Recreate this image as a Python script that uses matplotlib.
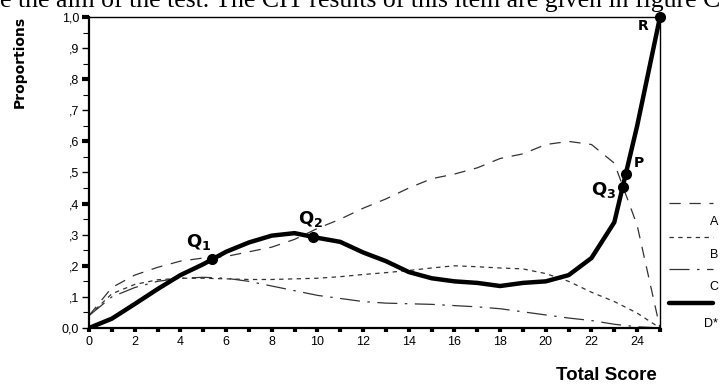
import matplotlib
matplotlib.use("Agg")
import matplotlib.pyplot as plt
from matplotlib.lines import Line2D
import numpy as np

# total score 0..25
score = list(range(26))

prop_a = [0.04, 0.13, 0.17, 0.195, 0.215, 0.225, 0.23, 0.245, 0.26, 0.285,
          0.32, 0.35, 0.385, 0.415, 0.45, 0.48, 0.495, 0.515, 0.545, 0.56,
          0.59, 0.60, 0.59, 0.53, 0.33, 0.0]
prop_b = [0.04, 0.11, 0.14, 0.155, 0.16, 0.16, 0.158, 0.156, 0.156, 0.158,
          0.16, 0.165, 0.172, 0.178, 0.185, 0.193, 0.20, 0.197, 0.193, 0.19,
          0.175, 0.15, 0.115, 0.085, 0.048, 0.0]
prop_c = [0.04, 0.10, 0.13, 0.15, 0.16, 0.163, 0.16, 0.15, 0.135, 0.12,
          0.105, 0.095, 0.085, 0.08, 0.078, 0.076, 0.072, 0.068, 0.062, 0.052,
          0.042, 0.032, 0.024, 0.012, 0.004, 0.0]
prop_d = [0.0, 0.03, 0.077, 0.125, 0.17, 0.205, 0.245, 0.275, 0.297, 0.305,
          0.29, 0.277, 0.243, 0.215, 0.18, 0.16, 0.15, 0.145, 0.135, 0.145,
          0.15, 0.17, 0.225, 0.34, 0.65, 1.0]

# marked points on the key (D*) curve
point_names = ["Q1", "Q2", "Q3", "P", "R"]
point_score = [5.4, 9.8, 23.37, 23.5, 25.0]

option_labels = ["A", "B", "C", "D*"]

fig = plt.figure(figsize=(7.25, 3.85), dpi=100)
W, H = 725.0, 385.0
ax = fig.add_axes([89 / W, 1 - 328 / H, (660 - 89) / W, (328 - 17) / H])

styles = [
    dict(color="#333333", lw=0.9, dashes=(9, 7)),
    dict(color="#333333", lw=0.9, dashes=(3.5, 3.5)),
    dict(color="#333333", lw=0.9, dashes=(16, 6, 2, 6)),
    dict(color="black", lw=3.2, solid_capstyle="round", solid_joinstyle="round"),
]
for ys, st in zip([prop_a, prop_b, prop_c, prop_d], styles):
    ax.plot(score, ys, **st)

py = np.interp(point_score, score, prop_d)
ax.plot(point_score, py, "o", color="black", ms=7, clip_on=False, zorder=5)

ax.text(point_score[0] - 0.05, py[0] + 0.022, r"$\mathbf{Q_1}$", ha="right", va="bottom", fontsize=13)
ax.text(point_score[1] - 0.1, py[1] + 0.025, r"$\mathbf{Q_2}$", ha="center", va="bottom", fontsize=13)
ax.text(point_score[2] - 0.3, py[2] - 0.01, r"$\mathbf{Q_3}$", ha="right", va="center", fontsize=13)
ax.text(point_score[3] + 0.35, py[3] + 0.035, "P", ha="left", va="center", fontsize=10, fontweight="bold")
ax.text(point_score[4] - 0.5, py[4] - 0.03, "R", ha="right", va="center", fontsize=10, fontweight="bold")

ax.set_xlim(0, 25)
ax.set_ylim(0, 1.0)
ax.set_xticks(range(0, 25, 2))
ax.set_xticks(range(0, 26), minor=True)
ax.set_yticks(np.arange(0, 1.01, 0.1))
ax.set_yticks(np.arange(0, 1.01, 0.05), minor=True)
ylabels = ["0,0"] + [",%d" % i for i in range(1, 10)] + ["1,0"]
ax.set_yticklabels(ylabels, fontsize=9, family="Liberation Sans")
ax.set_xticklabels([str(v) for v in range(0, 25, 2)], fontsize=9, family="Liberation Sans")

ax.tick_params(axis="x", which="both", direction="out", length=3, width=3, pad=3)
ax.tick_params(axis="y", which="major", direction="out", length=5, width=1, pad=2)
ax.tick_params(axis="y", which="minor", direction="out", length=4, width=0.8)
for i, t in enumerate(ax.yaxis.get_major_ticks()):
    if i % 2 == 0 and i > 0:
        t.tick1line.set_markeredgewidth(3)

for s in ["left", "bottom"]:
    ax.spines[s].set_linewidth(1.6)
for s in ["top", "right"]:
    ax.spines[s].set_linewidth(1.0)

fig.text(20 / W, 1 - 16 / H, "Proportions", rotation=90, ha="center", va="top",
         fontsize=10, fontweight="bold", family="DejaVu Sans")
fig.text(657 / W, 1 - 376 / H, "Total Score", ha="right", va="center",
         fontsize=13.5, fontweight="bold", family="Liberation Sans")

# legend at the right, line sample above its label
lax = fig.add_axes([0, 0, 1, 1])
lax.set_xlim(0, W)
lax.set_ylim(H, 0)
lax.axis("off")
leg_line_y = [203, 237, 269, 303]
leg_text_y = [222, 255, 287, 324]
for lab, st, ly, ty in zip(option_labels, styles, leg_line_y, leg_text_y):
    lax.add_line(Line2D([669, 713], [ly, ly], **st))
    lax.text(718, ty, lab, ha="right", va="center", fontsize=9, family="Liberation Sans")

# document text cut off at the top of the scan
fig.text(0.0, 1 - 7 / H, "e the aim of the test. The CIT results of this item are given in figure C",
         ha="left", va="baseline", fontsize=18.5, family="Liberation Serif")

fig.savefig("out.png", dpi=100)
